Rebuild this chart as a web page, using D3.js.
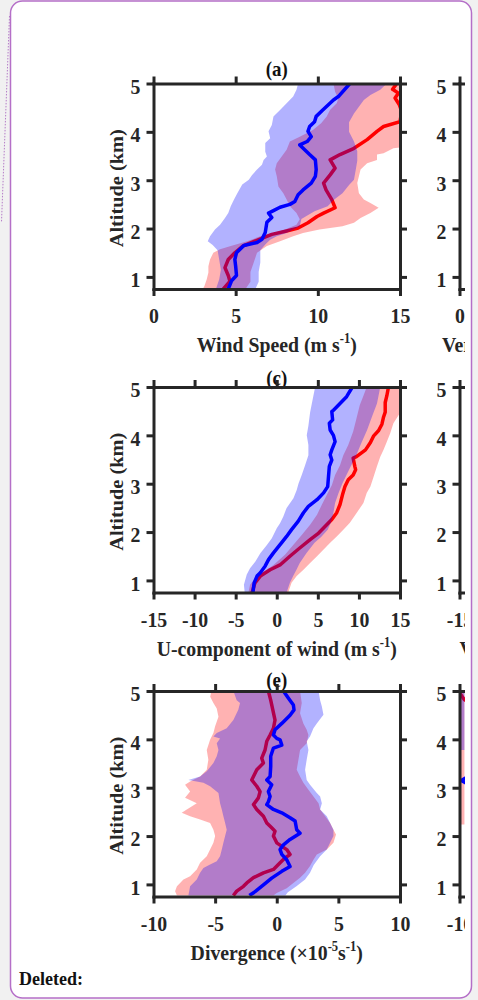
<!DOCTYPE html>
<html>
<head>
<meta charset="utf-8">
<script src="https://cdn.jsdelivr.net/npm/d3@7"></script>
<style>
  body { margin: 0; background: #f1f1f1; }
  svg { display: block; }
  .tick text { font: bold 22px "Liberation Serif", serif; fill: #262626; }
  .lbl { font: bold 22px "Liberation Serif", serif; fill: #262626; }
  .ylbl { font: bold 21px "Liberation Serif", serif; fill: #262626; }
  .ttl { font: bold 21px "Liberation Serif", serif; fill: #111; }
</style>
</head>
<body>
<svg id="chart" width="478" height="1000"></svg>
<script>
// ------------------------------ DATA ------------------------------
// every profile is a list of [value, altitude km]
var altDomain = [0.75, 5];
var altTicks = [1, 2, 3, 4, 5];

// (a) wind speed
var aTicks = [0, 5, 10, 15];
var aBlueLine = [[11.95,5],[11.25,4.73],[10.95,4.66],[10.3,4.45],[9.9,4.32],[9.8,4.21],[9.5,4.11],[9.4,4.01],[9.6,3.9],[9.35,3.8],[8.9,3.73],[9.2,3.63],[9.5,3.53],[9.85,3.42],[9.9,3.22],[9.85,3.08],[9.6,2.94],[9.1,2.8],[8.8,2.7],[8.6,2.56],[8.3,2.5],[7.7,2.44],[7.3,2.37],[7.0,2.32],[7.2,2.23],[6.9,2.13],[6.8,1.92],[6.6,1.78],[6.3,1.71],[5.5,1.65],[5.05,1.5],[4.95,1.36],[5.0,1.22],[5.05,1.03],[4.75,0.92],[4.55,0.75]];
var aRedLine = [[14.8,5],[14.55,4.88],[14.9,4.8],[14.7,4.7],[14.96,4.56],[15.1,4.42],[15.0,4.21],[14.0,4.11],[13.6,4.01],[13.0,3.84],[12.2,3.66],[11.35,3.53],[10.75,3.42],[11.05,3.25],[10.75,3.11],[10.35,2.94],[10.5,2.8],[10.85,2.6],[11.05,2.43],[10.35,2.32],[9.95,2.25],[9.4,2.12],[8.8,2.01],[8.1,1.95],[7.2,1.88],[6.4,1.77],[5.45,1.64],[4.95,1.5],[4.55,1.36],[4.35,1.19],[4.55,1.03],[4.65,0.91],[4.25,0.75]];
var aBlueLo = [[8.8,5],[8.7,4.87],[8.5,4.73],[8.1,4.59],[7.7,4.45],[7.3,4.32],[7.2,4.14],[7.0,4.01],[7.1,3.87],[6.8,3.77],[6.8,3.59],[6.9,3.49],[6.7,3.42],[6.6,3.32],[6.3,3.22],[6.0,3.11],[5.8,3.01],[5.4,2.91],[5.1,2.73],[4.9,2.6],[4.7,2.46],[4.55,2.32],[4.35,2.22],[4.05,2.08],[3.74,1.98],[3.44,1.84],[3.3,1.74],[3.6,1.66],[3.9,1.55],[4.0,1.35],[4.1,1.15],[4.0,0.95],[3.8,0.75]];
var aBlueHi = [[14.2,5],[13.8,4.87],[13.2,4.76],[12.8,4.66],[12.5,4.52],[12.2,4.38],[11.9,4.2],[11.9,4.0],[12.2,3.8],[12.4,3.6],[12.4,3.4],[12.3,3.2],[12.2,3.01],[11.9,2.9],[11.5,2.73],[11.0,2.6],[10.6,2.46],[9.8,2.36],[9.0,2.2],[8.9,2.05],[8.5,1.98],[8.1,1.91],[7.5,1.84],[7.1,1.77],[6.8,1.67],[6.5,1.55],[6.5,1.3],[6.4,1.1],[6.4,0.9],[6.2,0.75]];
var aRedLo = [[10.95,5],[11.05,4.83],[11.25,4.69],[11.15,4.59],[10.74,4.45],[10.54,4.32],[10.2,4.18],[9.7,4.04],[8.9,3.9],[8.3,3.8],[8.1,3.63],[7.8,3.49],[7.5,3.35],[7.4,3.22],[7.5,3.08],[7.6,2.87],[7.9,2.73],[8.1,2.6],[8.3,2.46],[8.7,2.32],[8.9,2.19],[8.7,2.08],[8.0,1.98],[7.3,1.91],[6.5,1.84],[5.7,1.74],[4.7,1.64],[4.05,1.57],[3.64,1.5],[3.44,1.36],[3.34,1.22],[3.34,1.09],[3.24,0.95],[3.1,0.81],[3.0,0.75]];
var aRedHi = [[15.6,5],[15.6,3.7],[14.6,3.66],[14.0,3.56],[13.6,3.53],[13.6,3.42],[13.0,3.35],[12.6,3.22],[12.4,2.94],[12.5,2.73],[12.8,2.6],[13.2,2.53],[13.7,2.43],[13.2,2.32],[12.6,2.22],[12.2,2.12],[11.5,2.05],[10.1,1.98],[9.1,1.91],[8.5,1.84],[7.7,1.74],[6.9,1.64],[6.3,1.5],[6.1,1.3],[5.9,1.1],[5.9,0.9],[5.6,0.75]];

// (c) U-component of wind
var cTicks = [-15, -10, -5, 0, 5, 10, 15];
var cBlueLine = [[9.2,5],[8.5,4.8],[7.7,4.66],[6.9,4.52],[6.7,4.49],[6.8,4.32],[6.4,4.25],[6.5,4.11],[6.9,4.0],[7.1,3.87],[6.7,3.7],[6.5,3.6],[6.7,3.49],[6.4,3.36],[6.3,3.15],[6.2,2.94],[5.7,2.81],[4.9,2.67],[3.85,2.53],[3.25,2.4],[2.6,2.22],[1.8,2.05],[1.2,1.91],[0.6,1.78],[-0.4,1.57],[-1.0,1.43],[-1.4,1.3],[-2.0,1.16],[-2.4,1.09],[-2.75,0.95],[-2.9,0.75]];
var cRedLine = [[13.6,5],[13.4,4.82],[13.2,4.68],[13.2,4.48],[13.0,4.38],[12.8,4.23],[12.4,4.1],[11.8,3.99],[11.4,3.85],[10.8,3.7],[9.7,3.56],[9.3,3.53],[9.5,3.36],[9.6,3.29],[9.3,3.18],[8.7,3.08],[8.3,2.94],[8.0,2.77],[7.7,2.57],[7.3,2.4],[6.7,2.26],[5.9,2.12],[5.1,1.98],[4.1,1.85],[2.8,1.67],[1.6,1.5],[0.4,1.32],[-0.8,1.22],[-2.0,1.09],[-2.65,0.95],[-3.0,0.75]];
var cBlueLo = [[4.67,5],[4.46,4.82],[4.26,4.65],[4.06,4.48],[3.85,4.2],[3.65,4.0],[3.85,3.8],[3.85,3.59],[3.45,3.38],[3.04,3.18],[2.64,3.0],[2.43,2.87],[2.03,2.7],[1.2,2.5],[0.8,2.32],[0.4,2.18],[0,2.08],[-0.6,1.87],[-1.2,1.73],[-2.0,1.56],[-2.6,1.39],[-3.25,1.25],[-3.65,1.12],[-4.0,0.91],[-3.9,0.75]];
var cBlueHi = [[12.6,5],[12.2,4.66],[11.6,4.39],[11.0,4.11],[10.3,3.84],[9.6,3.56],[8.8,3.29],[8.0,3.01],[7.5,2.8],[7.1,2.6],[6.9,2.4],[6.6,2.2],[6.2,2.05],[5.4,1.9],[4.6,1.78],[3.65,1.57],[2.8,1.36],[2.4,1.22],[2.0,1.09],[1.6,0.95],[1.2,0.75]];
var cRedLo = [[10.95,5],[10.55,4.82],[10.1,4.62],[9.7,4.35],[9.3,4.08],[8.7,3.8],[8.1,3.59],[7.7,3.38],[7.1,3.18],[6.7,2.97],[6.1,2.77],[5.5,2.57],[4.9,2.36],[4.06,2.15],[3.04,1.94],[2.03,1.74],[1.0,1.53],[-0.4,1.32],[-1.6,1.18],[-2.6,1.05],[-3.25,0.91],[-3.45,0.75]];
var cRedHi = [[15.0,5],[15.0,4.46],[14.2,4.25],[13.8,4.04],[13.4,3.87],[13.0,3.7],[12.6,3.56],[12.2,3.36],[11.8,3.15],[11.4,2.94],[10.95,2.81],[10.55,2.6],[9.74,2.4],[8.9,2.19],[8.1,2.05],[7.3,1.91],[6.5,1.78],[5.7,1.64],[4.9,1.5],[4.06,1.36],[3.25,1.22],[2.43,1.09],[1.8,0.95],[1.4,0.75]];

// (e) divergence
var eTicks = [-10, -5, 0, 5, 10];
var eBlueLine = [[0.54,5],[0.95,4.85],[1.35,4.71],[1.4,4.61],[1.08,4.5],[0.41,4.33],[-0.14,4.2],[-0.27,4.09],[0,4.02],[0.27,3.99],[0.41,3.88],[-0.27,3.82],[-0.49,3.65],[-0.49,3.44],[-0.54,3.23],[-0.81,3.16],[-0.41,3.06],[-0.68,2.92],[-0.54,2.82],[-0.68,2.71],[-0.81,2.65],[-0.27,2.55],[0.41,2.48],[1.08,2.38],[1.49,2.31],[1.62,2.13],[1.89,2.06],[1.08,1.93],[0.54,1.82],[0.27,1.72],[0.41,1.62],[0.81,1.51],[1.08,1.37],[0.41,1.27],[-0.41,1.13],[-1.08,0.99],[-1.76,0.85],[-2.22,0.77]];
var eRedLine = [[-0.68,5],[-0.49,4.81],[-0.32,4.61],[-0.14,4.4],[-0.27,4.23],[-0.54,4.09],[-0.81,3.96],[-0.95,3.78],[-1.22,3.61],[-1.08,3.51],[-1.62,3.37],[-1.89,3.23],[-2.03,3.16],[-1.62,3.03],[-1.35,2.92],[-1.49,2.79],[-1.89,2.65],[-1.62,2.55],[-1.08,2.41],[-0.81,2.27],[-0.41,2.17],[-0.14,2.1],[-0.27,2.0],[0,1.86],[0.81,1.72],[1.08,1.62],[0.68,1.55],[0.27,1.45],[-0.27,1.31],[-1.08,1.24],[-1.89,1.14],[-2.43,1.03],[-2.7,0.96],[-3.25,0.86],[-3.52,0.77]];
var eBlueLo = [[-3.52,5],[-3.25,4.81],[-2.98,4.75],[-3.12,4.61],[-3.52,4.4],[-4.06,4.23],[-4.87,4.13],[-5.14,4.06],[-4.6,4.02],[-4.87,3.92],[-4.73,3.78],[-4.87,3.65],[-5.14,3.51],[-5.68,3.34],[-6.22,3.23],[-7.17,3.16],[-5.95,3.1],[-5.41,3.03],[-4.73,2.89],[-4.6,2.68],[-4.46,2.55],[-4.33,2.41],[-4.19,2.27],[-4.06,2.13],[-4.19,2.0],[-4.33,1.86],[-4.46,1.72],[-4.6,1.58],[-4.87,1.48],[-5.41,1.41],[-5.95,1.34],[-6.22,1.24],[-6.49,1.1],[-7.03,0.96],[-7.17,0.77]];
var eBlueHi = [[3.39,5],[3.52,4.81],[3.66,4.68],[3.79,4.51],[3.25,4.33],[2.98,4.23],[2.7,4.06],[2.43,3.96],[2.57,3.78],[2.43,3.58],[2.3,3.37],[2.43,3.16],[2.7,3.06],[3.25,2.89],[3.52,2.82],[3.66,2.68],[3.52,2.55],[4.06,2.41],[4.33,2.27],[4.6,2.13],[4.6,2.0],[4.33,1.86],[4.06,1.72],[3.52,1.58],[3.0,1.4],[2.7,1.24],[2.3,1.1],[1.6,0.96],[0.9,0.84],[0.7,0.77]];
var eRedLo = [[-5.3,5],[-5.4,4.88],[-5.14,4.75],[-4.87,4.64],[-4.73,4.47],[-5.0,4.27],[-5.14,4.13],[-5.41,3.99],[-5.68,3.78],[-5.55,3.58],[-5.68,3.37],[-6.22,3.23],[-7.03,3.13],[-7.44,3.06],[-7.03,2.92],[-7.44,2.79],[-6.49,2.68],[-7.3,2.55],[-7.71,2.48],[-7.03,2.41],[-6.22,2.34],[-5.41,2.27],[-5.14,2.13],[-5.0,2.0],[-5.14,1.86],[-5.41,1.72],[-5.68,1.58],[-6.22,1.45],[-6.49,1.31],[-7.03,1.17],[-7.57,1.1],[-8.1,0.96],[-8.25,0.86],[-8.1,0.77]];
var eRedHi = [[1.89,5],[2.03,4.75],[1.89,4.54],[2.16,4.33],[2.43,4.2],[2.57,4.09],[2.43,3.92],[1.89,3.78],[1.76,3.58],[1.62,3.37],[1.89,3.23],[2.16,3.1],[2.57,2.96],[2.98,2.82],[3.39,2.68],[3.52,2.55],[3.93,2.41],[4.33,2.27],[4.6,2.13],[4.81,2.03],[4.6,1.86],[4.06,1.72],[3.25,1.62],[2.98,1.51],[2.7,1.38],[2.3,1.24],[1.89,1.14],[1.35,1.03],[0.81,0.92],[0,0.82],[-0.27,0.77]];

// right column, cut off by the page edge
var bTicks = [0, 5, 10, 15];
var dTicks = [-15, -10, -5, 0, 5, 10, 15];
var fTicks = [-10, -5, 0, 5, 10];
var fRedLine = [[-10.1,5],[-9.6,4.82],[-8,4.6]];
var fBlueLine = [[-8.5,3.35],[-9.85,3.15],[-8.5,2.95]];
var fBlueLo = [[-12,5],[-12,3.78]];
var fBlueHi = [[-9.6,5],[-9.6,3.78]];
var fRedLo = [[-12,5],[-12,2.24]];
var fRedHi = [[-9.6,5],[-9.6,2.24]];

// ------------------------------ LAYOUT ------------------------------
var W = 246.5, H = 205.5, SX = 0.9;
var panels = [
  { left: 153.5, top: 83.5, x: [0, 15], ticks: aTicks, title: "(a)", titleY: -7.5, yLabel: true,
    label: [["Wind Speed (m s"], ["-1", 1], [")"]],
    red: [aRedLo, aRedHi, aRedLine], blue: [aBlueLo, aBlueHi, aBlueLine] },
  { left: 459.5, top: 83.5, x: [0, 15], ticks: bTicks, title: "(b)", titleY: -7.5,
    label: [["Vertical Velocity (cm s"], ["-1", 1], [")"]], labelX: -17.5 },
  { left: 153.5, top: 387, x: [-15, 15], ticks: cTicks, title: "(c)", titleY: -2, yLabel: true,
    label: [["U-component of wind (m s"], ["-1", 1], [")"]],
    red: [cRedLo, cRedHi, cRedLine], blue: [cBlueLo, cBlueHi, cBlueLine] },
  { left: 459.5, top: 387, x: [-15, 15], ticks: dTicks, title: "(d)", titleY: -2,
    label: [["V-component of wind (m s"], ["-1", 1], [")"]], labelX: 0 },
  { left: 153.5, top: 691, x: [-10, 10], ticks: eTicks, title: "(e)", titleY: -4, yLabel: true,
    label: [["Divergence (\u00d710"], ["-5", 1], ["s"], ["-1", 1], [")"]],
    red: [eRedLo, eRedHi, eRedLine], blue: [eBlueLo, eBlueHi, eBlueLine] },
  { left: 459.5, top: 691, x: [-10, 10], ticks: fTicks, title: "(f)", titleY: -4,
    label: [["Vorticity (\u00d710"], ["-5", 1], ["s"], ["-1", 1], [")"]], labelX: 40,
    red: [fRedLo, fRedHi, fRedLine], blue: [fBlueLo, fBlueHi, fBlueLine] }
];

var svg = d3.select("#chart");

// page frame
svg.append("rect")
  .attr("x", 10.5).attr("y", 1).attr("width", 461).attr("height", 997)
  .attr("rx", 12)
  .attr("fill", "#fff").attr("stroke", "#b56fc8").attr("stroke-width", 1.5);
svg.append("line")
  .attr("x1", 9.5).attr("y1", 16).attr("x2", 1.5).attr("y2", 222)
  .attr("stroke", "#b57cc8").attr("stroke-width", 1).attr("stroke-dasharray", "1.5,1.5");

svg.append("clipPath").attr("id", "pageclip")
  .append("rect").attr("x", 0).attr("y", 0).attr("width", 465).attr("height", 1000);
var chart = svg.append("g").attr("clip-path", "url(#pageclip)");

var fmt = function (d) { return String(d); };

panels.forEach(function (p, i) {
  var g = chart.append("g").attr("transform", "translate(" + p.left + "," + p.top + ")");
  var x = d3.scaleLinear().domain(p.x).range([0, W]);
  var y = d3.scaleLinear().domain(altDomain).range([H, 0]);

  g.append("g").attr("transform", "translate(" + (W / 2) + "," + p.titleY + ") scale(" + SX + ",1)")
    .append("text").attr("class", "ttl")
    .attr("text-anchor", "middle").text(p.title);

  g.append("clipPath").attr("id", "clip" + i)
    .append("rect").attr("width", W).attr("height", H);
  var plot = g.append("g").attr("clip-path", "url(#clip" + i + ")");

  var line = d3.line().x(function (d) { return x(d[0]); }).y(function (d) { return y(d[1]); });
  var band = function (lo, hi) { return line(lo.concat(hi.slice().reverse())) + "Z"; };

  // red first, blue laid over it with transparency
  [[p.red, "#ff0000"], [p.blue, "#0000ff"]].forEach(function (s) {
    if (!s[0]) return;
    plot.append("path").attr("d", band(s[0][0], s[0][1]))
      .attr("fill", s[1]).attr("fill-opacity", 0.3);
    plot.append("path").attr("d", line(s[0][2]))
      .attr("fill", "none").attr("stroke", s[1])
      .attr("stroke-width", 3.5).attr("stroke-linejoin", "round");
  });

  var axes = [
    [d3.axisBottom(x).tickValues(p.ticks).tickFormat(fmt).tickPadding(11.5), "translate(0," + H + ")", "b"],
    [d3.axisTop(x).tickValues(p.ticks).tickFormat(""), "translate(0,0)"],
    [d3.axisLeft(y).tickValues(altTicks).tickFormat(fmt).tickPadding(6), "translate(0,0)", "l"],
    [d3.axisRight(y).tickValues(altTicks).tickFormat(""), "translate(" + W + ",0)"]
  ];
  axes.forEach(function (a) {
    var ax = g.append("g").attr("transform", a[1])
      .call(a[0].tickSize(7).tickSizeOuter(0));
    ax.select(".domain").attr("stroke", "#262626").attr("stroke-width", 3)
      .attr("stroke-linecap", "square");
    ax.selectAll(".tick line").attr("stroke", "#262626").attr("stroke-width", 3);
    if (a[2] === "b") ax.selectAll(".tick text").attr("transform", "scale(" + SX + ",1)");
    if (a[2] === "l") ax.selectAll(".tick text")
      .attr("x", -13 / SX).attr("dy", "0.45em")
      .attr("transform", "scale(" + SX + ",1)");
  });

  var lg = g.append("g");
  var lbl = lg.append("text").attr("class", "lbl");
  if (p.labelX === undefined) {
    lg.attr("transform", "translate(" + (W / 2) + "," + (H + 63) + ") scale(" + SX + ",1)");
    lbl.attr("text-anchor", "middle");
  } else {
    lg.attr("transform", "translate(" + p.labelX + "," + (H + 63) + ") scale(" + SX + ",1)");
    lbl.attr("text-anchor", "start");
  }
  p.label.forEach(function (part, k) {
    var prevSup = k > 0 && p.label[k - 1][1];
    var t = lbl.append("tspan").text(part[0]);
    if (part[1]) t.attr("dy", -9).attr("font-size", 14);
    else if (prevSup) t.attr("dy", 9);
  });

  if (p.yLabel) {
    g.append("text").attr("class", "ylbl")
      .attr("transform", "translate(-31," + (H / 2 + 2) + ") rotate(-90) scale(0.97,0.9)")
      .attr("text-anchor", "middle").text("Altitude (km)");
  }
});

svg.append("text")
  .attr("x", 19).attr("y", 985)
  .style("font", "bold 18px 'Liberation Serif', serif").attr("fill", "#111")
  .text("Deleted:");
</script>
</body>
</html>
